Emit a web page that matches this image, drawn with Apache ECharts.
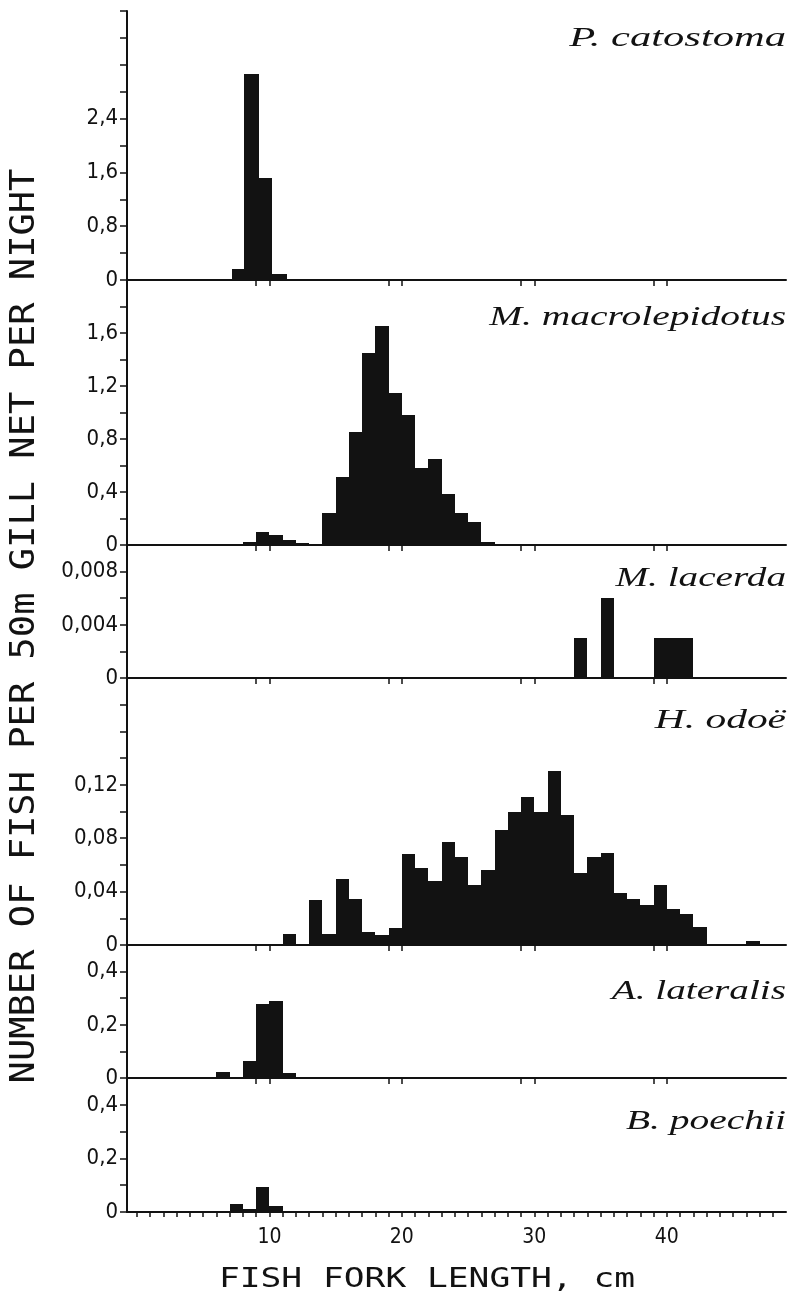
<!DOCTYPE html>
<html><head><meta charset="utf-8">
<script src="https://cdn.jsdelivr.net/npm/echarts@6/dist/echarts.min.js"></script>
<style>html,body{margin:0;padding:0;background:#fff}#c{width:795px;height:1297px}</style>
</head><body><div id="c"></div>
<script>
// ---- data (fish fork length bins in cm, catch per 50 m gill net per night) ----
const species = ['P. catostoma', 'M. macrolepidotus', 'M. lacerda', 'H. odoë', 'A. lateralis', 'B. poechii'];

const catEdges = [7.2, 8.1, 9.2, 10.2, 11.3];
const catValues = [0.17, 3.06, 1.52, 0.085];

const macEdges = [8, 9, 10, 11, 12, 13, 14, 15, 16, 17, 18, 19, 20, 21, 22, 23, 24, 25, 26, 27, 28, 29];
const macValues = [0.025, 0.10, 0.075, 0.038, 0.017, 0.01, 0.239, 0.515, 0.855, 1.447, 1.653, 1.149, 0.981, 0.579, 0.649, 0.383, 0.244, 0.171, 0.02, 0.01, 0.005];

const lacEdges = [33, 34, 35, 36, 39, 40, 41, 42];
const lacValues = [0.003, 0, 0.006, 0, 0.003, 0.003, 0.003];

const odoEdges = [11, 12, 13, 14, 15, 16, 17, 18, 19, 20, 21, 22, 23, 24, 25, 26, 27, 28, 29, 30, 31, 32, 33, 34, 35, 36, 37, 38, 39, 40, 41, 42, 43, 46, 47];
const odoValues = [0.0085, 0, 0.034, 0.0085, 0.0497, 0.0348, 0.010, 0.0075, 0.0124, 0.068, 0.0577, 0.048, 0.0768, 0.0656, 0.0453, 0.056, 0.0863, 0.100, 0.1107, 0.100, 0.130, 0.0975, 0.054, 0.066, 0.069, 0.0386, 0.0348, 0.0298, 0.0448, 0.0269, 0.0229, 0.0137, 0, 0.003];

const latEdges = [6, 7, 8, 9, 10, 11, 12];
const latValues = [0.024, 0, 0.065, 0.278, 0.29, 0.02];

const poeEdges = [7, 8, 9, 10, 11];
const poeValues = [0.031, 0.013, 0.094, 0.021];

const yMax = [4.0, 2.0, 0.01, 0.2, 0.5, 0.5];
const yStep = [0.4, 0.2, 0.002, 0.02, 0.1, 0.1];
const yTickLabels = [[0, 0.8, 1.6, 2.4], [0, 0.4, 0.8, 1.2, 1.6], [0, 0.004, 0.008], [0, 0.04, 0.08, 0.12], [0, 0.2, 0.4], [0, 0.2, 0.4]];
const xTickLabels = [10, 20, 30, 40];
const xMinorTicks = [0, 1, 2, 3, 4, 5, 6, 7, 8, 9, 10, 11, 12, 13, 14, 15, 16, 17, 18, 19, 20, 21, 22, 23, 24, 25, 26, 27, 28, 29, 30, 31, 32, 33, 34, 35, 36, 37, 38, 39, 40, 41, 42, 43, 44, 45, 46, 47, 48];
const xPanelTicks = [9, 10, 19, 20, 29, 30, 39, 40];

const yTitle = 'NUMBER OF FISH PER 50m GILL NET PER NIGHT';
const xTitle = 'FISH FORK LENGTH, cm';

// ---- layout ----
const edgesList = [catEdges, macEdges, lacEdges, odoEdges, latEdges, poeEdges];
const valuesList = [catValues, macValues, lacValues, odoValues, latValues, poeValues];
const gridTops = [11, 280, 545, 678, 945, 1078];
const gridHeights = [269, 265, 133, 267, 133, 134];
const labelY = [39, 318, 579, 721, 992, 1122];
const labelScale = [1.52, 1.41, 1.4, 1.48, 1.4, 1.41];
const INK = '#121212';
const tickFont = "'Liberation Sans Narrow', 'DejaVu Sans Condensed', 'Roboto Condensed', sans-serif";

function toBins(edges, values) {
  return values.map((v, i) => [edges[i], edges[i + 1], v]);
}
function renderBar(params, api) {
  const p0 = api.coord([api.value(0), api.value(2)]);
  const p1 = api.coord([api.value(1), 0]);
  const x0 = Math.round(p0[0]), x1 = Math.round(p1[0]);
  const y0 = Math.round(p0[1]), y1 = Math.round(p1[1]);
  return {
    type: 'rect',
    shape: { x: x0, y: y0, width: x1 - x0, height: y1 - y0 },
    style: { fill: INK }
  };
}
const fmt = v => String(v).replace('.', ',');

const grids = [], xAxes = [], yAxes = [], series = [];
for (let i = 0; i < 6; i++) {
  grids.push({ left: 127, right: 9, top: gridTops[i], height: gridHeights[i] });
  const last = i === 5;
  xAxes.push({
    type: 'value', gridIndex: i, min: -0.75, max: 49,
    axisLine: { show: true, onZero: false, lineStyle: { color: INK, width: 2 } },
    axisTick: { show: true, customValues: last ? xMinorTicks : xPanelTicks, length: last ? 5 : 6, lineStyle: { color: INK, width: 1.5 } },
    axisLabel: { show: last, customValues: xTickLabels, color: INK, fontFamily: tickFont, fontSize: 21, margin: 15 },
    splitLine: { show: false }
  });
  yAxes.push({
    type: 'value', gridIndex: i, min: 0, max: yMax[i], interval: yStep[i],
    axisLine: { show: true, onZero: false, lineStyle: { color: INK, width: 2 } },
    axisTick: { show: true, length: 7, lineStyle: { color: INK, width: 1.5 } },
    axisLabel: { customValues: yTickLabels[i], formatter: fmt, color: INK, fontFamily: tickFont, fontSize: 22, margin: 9 },
    splitLine: { show: false }
  });
  series.push({
    type: 'custom', xAxisIndex: i, yAxisIndex: i,
    renderItem: renderBar,
    encode: { x: [0, 1], y: 2 },
    data: toBins(edgesList[i], valuesList[i]),
    silent: true
  });
}

const graphic = species.map((s, i) => ({
  type: 'text', x: 786, y: labelY[i], scaleX: labelScale[i],
  style: { text: s, fontFamily: "'Liberation Serif', serif", fontStyle: 'italic', fontSize: 28, fill: INK, align: 'right', verticalAlign: 'middle' }
}));
graphic.push({
  type: 'text', x: 427, y: 1280, scaleX: 1.28,
  style: { text: xTitle, fontFamily: "'DejaVu Sans Mono', monospace", fontSize: 27, fill: INK, align: 'center', verticalAlign: 'middle' }
});
graphic.push({
  type: 'text', x: 25, y: 626, rotation: Math.PI / 2, scaleX: 1.09,
  style: { text: yTitle, fontFamily: "'DejaVu Sans Mono', monospace", fontSize: 34, fill: INK, align: 'center', verticalAlign: 'middle' }
});

const chart = echarts.init(document.getElementById('c'), null, { renderer: 'canvas' });
chart.setOption({
  animation: false,
  backgroundColor: '#fff',
  grid: grids, xAxis: xAxes, yAxis: yAxes, series: series, graphic: graphic
});
</script></body></html>
